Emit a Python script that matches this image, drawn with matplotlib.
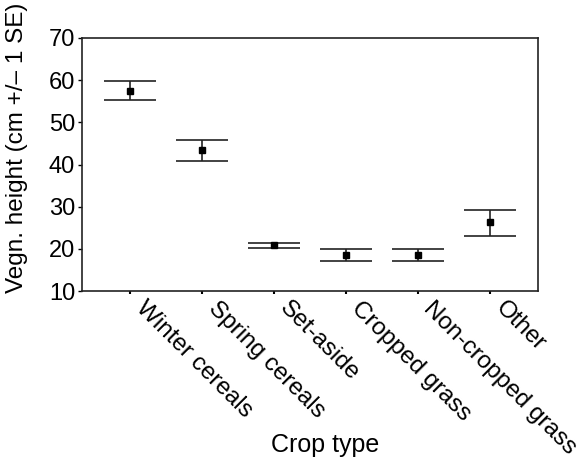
import matplotlib
matplotlib.use("Agg")
import matplotlib.pyplot as plt
import matplotlib.transforms as mtransforms
import numpy as np

categories = ["Winter cereals", "Spring cereals", "Set-aside", "Cropped grass",
              "Non-cropped grass", "Other"]
means = [57.5, 43.4, 20.8, 18.5, 18.6, 26.3]
upper = [59.7, 45.9, 21.5, 20.0, 20.0, 29.3]
lower = [55.3, 40.9, 20.1, 17.1, 17.1, 23.1]
yticks = [10, 20, 30, 40, 50, 60, 70]

plt.rcParams['font.family'] = ['Liberation Sans', 'DejaVu Sans']

fig = plt.figure(figsize=(5.82, 4.62), dpi=100)
ax = fig.add_axes([82/582, 1 - 291/462, (538-82)/582, (291-38)/462])

x = np.arange(len(categories))
m = np.array(means)
yerr = np.vstack([m - np.array(lower), np.array(upper) - m])
ax.errorbar(x, m, yerr=yerr, fmt='s', color='black', ecolor='#222222',
            markersize=5, elinewidth=1.2, capsize=18.5, capthick=1.2)

ax.set_xlim(-0.67, 5.67)
ax.set_ylim(10, 70)
ax.set_yticks(yticks)
ax.set_yticklabels([str(v) for v in yticks], fontsize=17)
ax.set_xticks(x)
ax.set_xticklabels([])
offset = mtransforms.ScaledTranslation(17/100, -6/100, fig.dpi_scale_trans)
trans = ax.get_xaxis_transform() + offset
for xi, cat in zip(x, categories):
    ax.text(xi, 0, cat, transform=trans, rotation=-45, ha='left', va='top',
            rotation_mode='anchor', fontsize=17.5, clip_on=False)
ax.tick_params(axis='x', length=2, width=1.5, pad=3)
ax.tick_params(axis='y', length=3, width=1, pad=2)
for s in ax.spines.values():
    s.set_linewidth(1.2)
    s.set_color('#222222')

fig.text(17/582, 1 - 148/462, "Vegn. height (cm +/\u2013 1 SE)", rotation=90,
         ha='center', va='center', fontsize=17.5)
fig.text(325/582, 1 - 445/462, "Crop type", ha='center', va='center', fontsize=18)

fig.savefig("out.png", dpi=100)
